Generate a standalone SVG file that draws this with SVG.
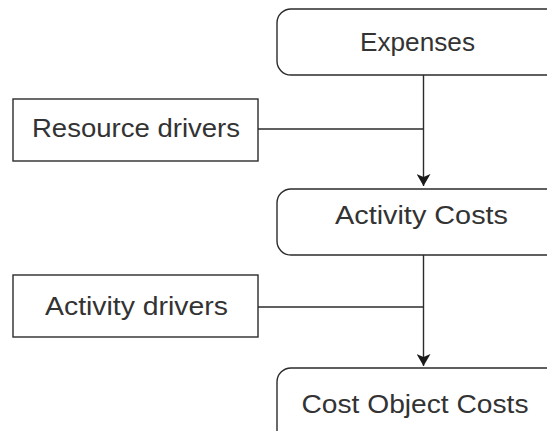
<svg xmlns="http://www.w3.org/2000/svg" width="547" height="431" viewBox="0 0 547 431">
<defs>
<style>
.box{fill:#fff;stroke:#2b2b2b;stroke-width:1.4}
.lbl{font-family:"Liberation Sans",Arial,sans-serif;font-size:26px;fill:#333}
.ln{stroke:#2b2b2b;stroke-width:1.4;fill:none}
</style>
<marker id="ah" viewBox="0 0 12 14" refX="12" refY="7" markerWidth="12" markerHeight="14" markerUnits="userSpaceOnUse" orient="auto">
<path d="M0,0 L12,7 L0,14 L3,7 Z" fill="#1a1a1a"/>
</marker>
</defs>
<rect width="547" height="431" fill="#fff"/>
<g id="connectors">
<line class="ln" x1="423.5" y1="75" x2="423.5" y2="186" marker-end="url(#ah)"/>
<line class="ln" x1="258" y1="129" x2="423.5" y2="129"/>
<line class="ln" x1="423.5" y1="255" x2="423.5" y2="366" marker-end="url(#ah)"/>
<line class="ln" x1="258" y1="307" x2="423.5" y2="307"/>
</g>
<g id="expenses">
<rect class="box" x="277" y="9" width="290" height="66" rx="14"/>
<text class="lbl" x="360" y="51" textLength="115" lengthAdjust="spacingAndGlyphs">Expenses</text>
</g>
<g id="resource-drivers">
<rect class="box" x="13" y="99" width="245" height="62"/>
<text class="lbl" x="32" y="137" textLength="208" lengthAdjust="spacingAndGlyphs">Resource drivers</text>
</g>
<g id="activity-costs">
<rect class="box" x="277" y="189" width="290" height="66" rx="14"/>
<text class="lbl" x="335" y="224" textLength="173" lengthAdjust="spacingAndGlyphs">Activity Costs</text>
</g>
<g id="activity-drivers">
<rect class="box" x="13" y="275" width="245" height="62"/>
<text class="lbl" x="45" y="315" textLength="183" lengthAdjust="spacingAndGlyphs">Activity drivers</text>
</g>
<g id="cost-object-costs">
<rect class="box" x="277" y="368" width="290" height="90" rx="14"/>
<text class="lbl" x="301.5" y="413" textLength="227" lengthAdjust="spacingAndGlyphs">Cost Object Costs</text>
</g>
</svg>
